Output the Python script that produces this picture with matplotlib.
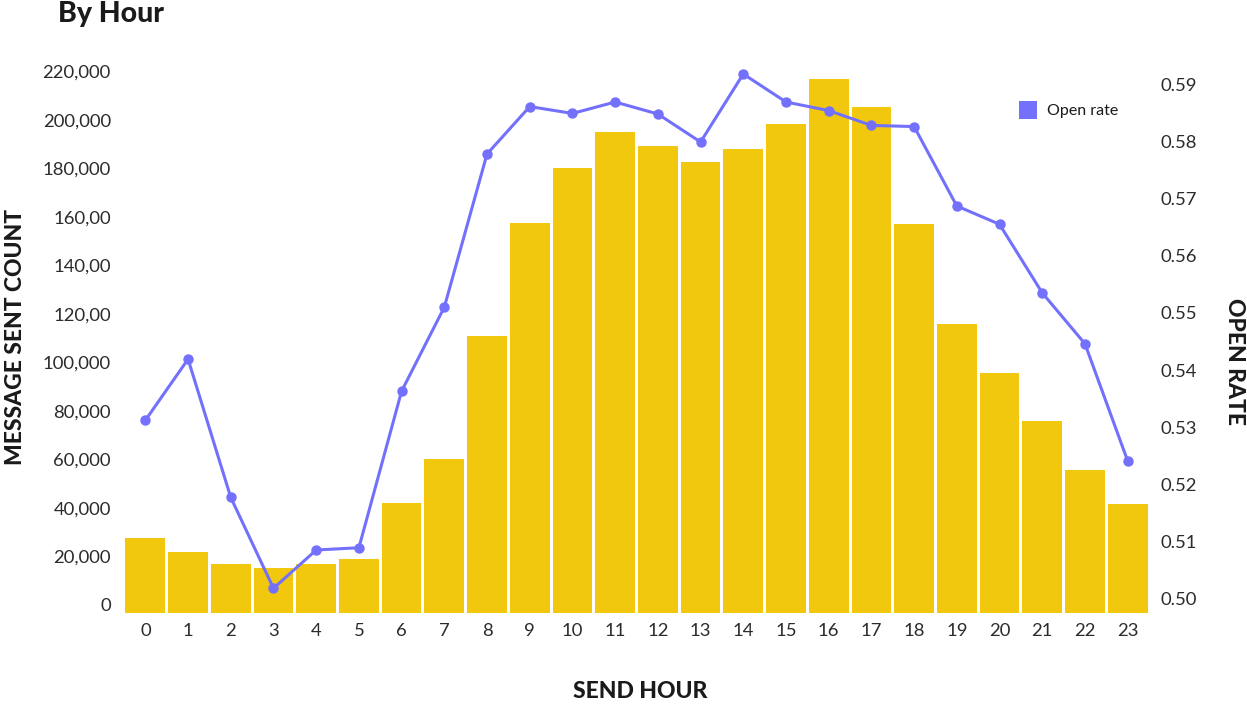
import matplotlib
matplotlib.use('Agg')
import matplotlib.pyplot as plt
import numpy as np
from matplotlib.transforms import ScaledTranslation
from matplotlib.lines import Line2D

plt.rcParams['font.family'] = ['Lato', 'DejaVu Sans']

# send hour vs. messages sent (bars) and open rate (line)
hours = list(range(24))
sent_count = [30800, 25000, 20100, 18400, 20100, 22100, 45200, 63400,
              114100, 160700, 183400, 198300, 192500, 185900, 191300, 201600,
              220100, 208600, 160300, 119100, 98900, 79100, 58900, 44800]
open_rate = [0.5312, 0.5419, 0.5177, 0.5018, 0.5085, 0.5089, 0.5363, 0.5510,
             0.5778, 0.5861, 0.5849, 0.5869, 0.5848, 0.5799, 0.5918, 0.5869,
             0.5854, 0.5828, 0.5826, 0.5687, 0.5655, 0.5535, 0.5446, 0.5241]

count_ticks = [0, 20000, 40000, 60000, 80000, 100000, 120000, 140000,
               160000, 180000, 200000, 220000]
count_labels = ['0', '20,000', '40,000', '60,000', '80,000', '100,000',
                '120,00', '140,00', '160,00', '180,000', '200,000', '220,000']
rate_ticks = [0.50, 0.51, 0.52, 0.53, 0.54, 0.55, 0.56, 0.57, 0.58, 0.59]

bar_color = '#F2C80F'
line_color = '#7371FC'
text_color = '#2b2b2b'

fig = plt.figure(figsize=(12.47, 7.05), dpi=100)
ax = fig.add_axes([124/1247, 1 - 612.7/705, 1025/1247, 552.7/705])

ax.bar(hours, sent_count, width=0.93, color=bar_color, zorder=2)
ax.set_xlim(-0.5, 23.5)
ax.set_ylim(0, 227960)
ax.set_xticks(hours)
ax.set_xticklabels([str(h) for h in hours])
ax.set_yticks(count_ticks)
ax.set_yticklabels(count_labels)
ax.tick_params(axis='both', length=0, labelsize=13.3, colors=text_color)
ax.tick_params(axis='y', pad=9.5)
ax.tick_params(axis='x', pad=7.5)
# count labels sit a little above their ticks
for lab in ax.get_yticklabels():
    lab.set_transform(lab.get_transform() + ScaledTranslation(0, 8/100, fig.dpi_scale_trans))
for s in ax.spines.values():
    s.set_visible(False)

ax2 = ax.twinx()
ax2.plot(hours, open_rate, color=line_color, linewidth=2.2, marker='o',
         markersize=6.5, zorder=3)
ax2.set_ylim(0.49753, 0.59425)
ax2.set_yticks(rate_ticks)
ax2.set_yticklabels(['%.2f' % t for t in rate_ticks])
ax2.tick_params(axis='y', length=0, labelsize=13.3, colors=text_color, pad=8.6)
for s in ax2.spines.values():
    s.set_visible(False)

title_kw = dict(fontweight='black', color='#1a1a1a', ha='center', va='center')
fig.text(58/1247, 1 - 14/705, 'By Hour', fontsize=20.5, fontweight='black',
         color='#1a1a1a', ha='left', va='center')
fig.text(16/1247, 1 - 337/705, 'MESSAGE SENT COUNT', fontsize=16.5,
         rotation=90, **title_kw)
fig.text(1234/1247, 1 - 362/705, 'OPEN RATE', fontsize=16.5,
         rotation=270, **title_kw)
fig.text(640/1247, 1 - 692/705, 'SEND HOUR', fontsize=16.5, **title_kw)

handle = Line2D([], [], linestyle='none', marker='s', markersize=13.5,
                markerfacecolor=line_color, markeredgewidth=0)
fig.legend([handle], ['Open rate'], loc='center left',
           bbox_to_anchor=(1010/1247, 1 - 111/705), frameon=False,
           fontsize=11.5, handlelength=1.2, handletextpad=0.6, borderpad=0,
           labelcolor='#1a1a1a')

fig.savefig('out.png', dpi=100)
